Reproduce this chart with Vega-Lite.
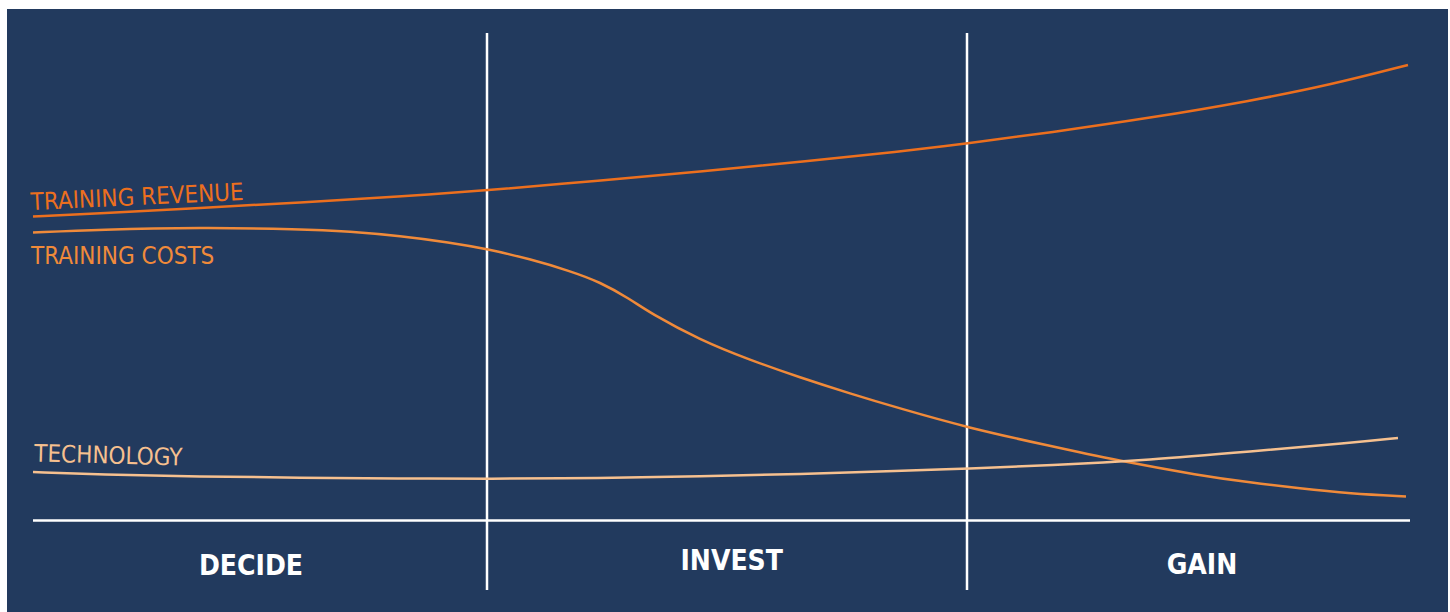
{
  "$schema": "https://vega.github.io/schema/vega-lite/v6.json",
  "width": 1441,
  "height": 603,
  "autosize": "none",
  "padding": {"left": 7, "top": 9, "right": 2, "bottom": 0},
  "background": "#ffffff",
  "config": {"view": {"stroke": null, "fill": "#223a5e"}, "axis": {"disable": true}},
  "datasets": {
    "curves": [
      {"series": "Training revenue", "x": 26, "y": 395.5},
      {"series": "Training revenue", "x": 93, "y": 398.8},
      {"series": "Training revenue", "x": 193, "y": 404},
      {"series": "Training revenue", "x": 293, "y": 409.5},
      {"series": "Training revenue", "x": 393, "y": 415.5},
      {"series": "Training revenue", "x": 480, "y": 421.5},
      {"series": "Training revenue", "x": 593, "y": 431.5},
      {"series": "Training revenue", "x": 693, "y": 440.5},
      {"series": "Training revenue", "x": 793, "y": 450},
      {"series": "Training revenue", "x": 893, "y": 460.5},
      {"series": "Training revenue", "x": 960, "y": 468.5},
      {"series": "Training revenue", "x": 1043, "y": 479.5},
      {"series": "Training revenue", "x": 1143, "y": 494},
      {"series": "Training revenue", "x": 1243, "y": 511},
      {"series": "Training revenue", "x": 1323, "y": 527},
      {"series": "Training revenue", "x": 1401, "y": 547},
      {"series": "Training costs", "x": 26, "y": 379.5},
      {"series": "Training costs", "x": 93, "y": 382.5},
      {"series": "Training costs", "x": 193, "y": 384.5},
      {"series": "Training costs", "x": 293, "y": 383},
      {"series": "Training costs", "x": 343, "y": 380.5},
      {"series": "Training costs", "x": 393, "y": 376},
      {"series": "Training costs", "x": 443, "y": 369.5},
      {"series": "Training costs", "x": 480, "y": 363},
      {"series": "Training costs", "x": 523, "y": 353},
      {"series": "Training costs", "x": 563, "y": 341},
      {"series": "Training costs", "x": 593, "y": 330},
      {"series": "Training costs", "x": 623, "y": 313},
      {"series": "Training costs", "x": 643, "y": 299},
      {"series": "Training costs", "x": 693, "y": 272},
      {"series": "Training costs", "x": 743, "y": 252},
      {"series": "Training costs", "x": 793, "y": 234.5},
      {"series": "Training costs", "x": 843, "y": 218.5},
      {"series": "Training costs", "x": 893, "y": 203.5},
      {"series": "Training costs", "x": 960, "y": 184.5},
      {"series": "Training costs", "x": 1043, "y": 166},
      {"series": "Training costs", "x": 1110, "y": 151.5},
      {"series": "Training costs", "x": 1193, "y": 136.5},
      {"series": "Training costs", "x": 1243, "y": 129.5},
      {"series": "Training costs", "x": 1293, "y": 123.5},
      {"series": "Training costs", "x": 1343, "y": 118.5},
      {"series": "Training costs", "x": 1399, "y": 115.5},
      {"series": "Technology", "x": 26, "y": 140},
      {"series": "Technology", "x": 93, "y": 137.5},
      {"series": "Technology", "x": 193, "y": 135.5},
      {"series": "Technology", "x": 293, "y": 134.2},
      {"series": "Technology", "x": 393, "y": 133.5},
      {"series": "Technology", "x": 480, "y": 133.2},
      {"series": "Technology", "x": 593, "y": 133.8},
      {"series": "Technology", "x": 693, "y": 135.5},
      {"series": "Technology", "x": 793, "y": 138},
      {"series": "Technology", "x": 893, "y": 141},
      {"series": "Technology", "x": 960, "y": 143.5},
      {"series": "Technology", "x": 1043, "y": 146.5},
      {"series": "Technology", "x": 1143, "y": 152},
      {"series": "Technology", "x": 1243, "y": 160.5},
      {"series": "Technology", "x": 1343, "y": 169},
      {"series": "Technology", "x": 1391, "y": 174}
    ],
    "dividers": [
      {"x": 480, "y": 22, "y2": 579},
      {"x": 960, "y": 22, "y2": 579}
    ],
    "baseline": [
      {"x": 26, "x2": 1403, "y": 91.5}
    ],
    "seriesLabels": [
      {"label": "TRAINING REVENUE", "series": "Training revenue", "x": 24, "y": 402, "angle": -2.7},
      {"label": "TRAINING COSTS", "series": "Training costs", "x": 24, "y": 348.2, "angle": 0},
      {"label": "TECHNOLOGY", "series": "Technology", "x": 27, "y": 150.5, "angle": 1.5}
    ],
    "phases": [
      {"phase": "DECIDE", "x": 244, "y": 37},
      {"phase": "INVEST", "x": 724.7, "y": 42},
      {"phase": "GAIN", "x": 1195, "y": 38.4}
    ]
  },
  "layer": [
    {
      "data": {"name": "dividers"},
      "mark": {"type": "rule", "color": "#ffffff", "strokeWidth": 2.5},
      "encoding": {
        "x": {"field": "x", "type": "quantitative", "scale": {"domain": [0, 1441], "nice": false, "zero": false}},
        "y": {"field": "y", "type": "quantitative", "scale": {"domain": [0, 603], "nice": false, "zero": false}},
        "y2": {"field": "y2"}
      }
    },
    {
      "data": {"name": "baseline"},
      "mark": {"type": "rule", "color": "#ffffff", "strokeWidth": 2.5},
      "encoding": {
        "x": {"field": "x", "type": "quantitative", "scale": {"domain": [0, 1441], "nice": false, "zero": false}},
        "x2": {"field": "x2"},
        "y": {"field": "y", "type": "quantitative", "scale": {"domain": [0, 603], "nice": false, "zero": false}}
      }
    },
    {
      "data": {"name": "curves"},
      "mark": {"type": "line", "interpolate": "basis", "strokeWidth": 2.5},
      "encoding": {
        "x": {"field": "x", "type": "quantitative", "scale": {"domain": [0, 1441], "nice": false, "zero": false}},
        "y": {"field": "y", "type": "quantitative", "scale": {"domain": [0, 603], "nice": false, "zero": false}},
        "color": {"field": "series", "type": "nominal", "legend": null,
          "scale": {"domain": ["Training revenue", "Training costs", "Technology"], "range": ["#ec6f1e", "#f08a3a", "#f6c08f"]}}
      }
    },
    {
      "data": {"name": "seriesLabels"},
      "mark": {"type": "text", "align": "left", "baseline": "alphabetic", "fontSize": 24, "font": "DejaVu Sans Condensed"},
      "encoding": {
        "x": {"field": "x", "type": "quantitative"},
        "y": {"field": "y", "type": "quantitative"},
        "angle": {"field": "angle", "type": "quantitative", "scale": null},
        "text": {"field": "label"},
        "color": {"field": "series", "type": "nominal", "legend": null}
      }
    },
    {
      "data": {"name": "phases"},
      "mark": {"type": "text", "align": "center", "baseline": "alphabetic", "fontSize": 28, "fontWeight": "bold", "color": "#ffffff", "font": "DejaVu Sans Condensed"},
      "encoding": {
        "x": {"field": "x", "type": "quantitative"},
        "y": {"field": "y", "type": "quantitative"},
        "text": {"field": "phase"}
      }
    }
  ]
}
